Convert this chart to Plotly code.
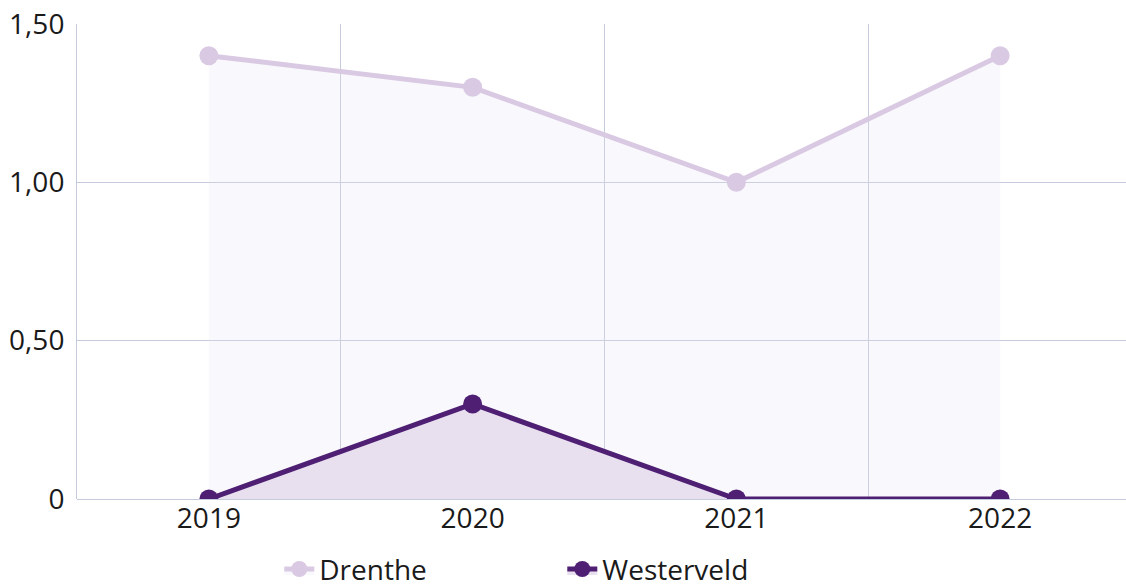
import plotly.graph_objects as go

years = ["2019", "2020", "2021", "2022"]
drenthe = [1.4, 1.3, 1.0, 1.4]
westerveld = [0.0, 0.3, 0.0, 0.0]
y_ticks = [0, 0.5, 1.0, 1.5]
y_ticklabels = ["0", "0,50", "1,00", "1,50"]

font_family = "Open Sans, Noto Sans, sans-serif"
grid_col = "#c4cbdc"

fig = go.Figure()
fig.add_trace(go.Scatter(
    x=years, y=drenthe, name="Drenthe", mode="lines+markers",
    line=dict(color="#d9c9e3", width=5),
    marker=dict(size=19, color="#d9c9e3"),
    fill="tozeroy", fillcolor="rgba(228,222,242,0.22)",
))
fig.add_trace(go.Scatter(
    x=years, y=westerveld, name="Westerveld", mode="lines+markers",
    line=dict(color="#4e1f73", width=5),
    marker=dict(size=19, color="#4e1f73"),
    fill="tozeroy", fillcolor="#e8e0ef",
))

fig.update_layout(
    width=1132, height=600,
    margin=dict(l=77, r=0, t=24, b=101, autoexpand=False),
    paper_bgcolor="white", plot_bgcolor="white",
    font=dict(family=font_family, size=28, color="#1a1a1a"),
    showlegend=True,
    legend=dict(orientation="h", x=0.46, xanchor="center", y=-0.148, yanchor="middle",
                entrywidth=238, entrywidthmode="pixels",
                font=dict(family=font_family, size=28, color="#1a1a1a")),
    xaxis=dict(type="category", range=[-0.5, 3.5], tickson="boundaries",
               showgrid=True, gridcolor=grid_col, gridwidth=1,
               showline=False, ticks="", zeroline=False),
    yaxis=dict(range=[0, 1.5], tickvals=y_ticks, ticktext=y_ticklabels,
               showgrid=True, gridcolor=grid_col, gridwidth=1,
               showline=True, linecolor=grid_col, linewidth=1,
               zeroline=True, zerolinecolor=grid_col, zerolinewidth=1,
               ticks="outside", ticklen=6, tickcolor="rgba(0,0,0,0)"),
)

fig.write_html(
    "out.html",
    config={"displayModeBar": False},
    post_script="document.body.style.margin='0';document.body.style.overflow='hidden';",
)
